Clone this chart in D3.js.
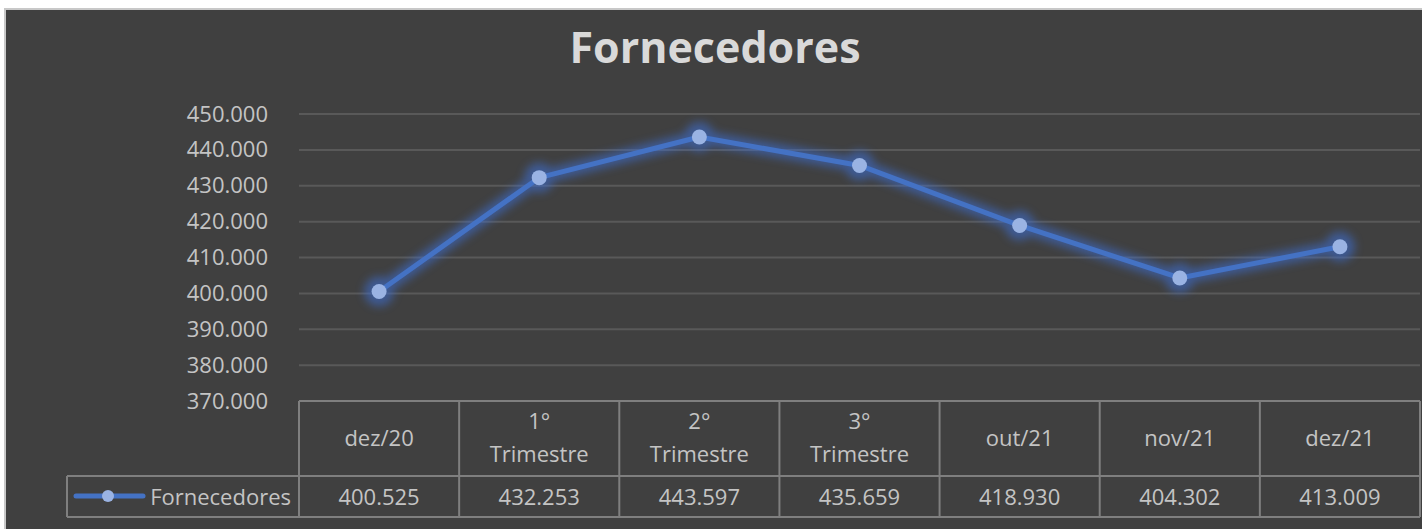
<!DOCTYPE html>
<html>
<head>
<meta charset="utf-8">
<script src="https://cdn.jsdelivr.net/npm/d3@7"></script>
<style>
  html, body { margin: 0; padding: 0; background: #ffffff; }
  svg { display: block; }
  text { font-family: "Open Sans", "Noto Sans", sans-serif; }
</style>
</head>
<body>
<div id="chart"></div>
<script>
// chart data
const categories = [["dez/20"], ["1°", "Trimestre"], ["2°", "Trimestre"], ["3°", "Trimestre"], ["out/21"], ["nov/21"], ["dez/21"]];
const seriesName = "Fornecedores";
const values = [400525, 432253, 443597, 435659, 418930, 404302, 413009];
const valueLabels = ["400.525", "432.253", "443.597", "435.659", "418.930", "404.302", "413.009"];
const yTicks = [370000, 380000, 390000, 400000, 410000, 420000, 430000, 440000, 450000];

const width = 1422, height = 529;

const svg = d3.select("#chart").append("svg")
  .attr("width", width)
  .attr("height", height);

// soft blue glow behind the line
const defs = svg.append("defs");
defs.append("filter").attr("id", "glow")
  .attr("x", "-20%").attr("y", "-50%").attr("width", "140%").attr("height", "200%")
  .append("feGaussianBlur").attr("stdDeviation", 4);

// chart background and frame
svg.append("rect")
  .attr("x", 5).attr("y", 9)
  .attr("width", width).attr("height", height)
  .attr("fill", "#404040")
  .attr("stroke", "#c8c8c8")
  .attr("stroke-width", 2);

// title
svg.append("text")
  .attr("x", 715).attr("y", 63)
  .attr("text-anchor", "middle")
  .attr("font-size", 43)
  .attr("font-weight", "bold")
  .attr("fill", "#d9d9d9")
  .text("Fornecedores");

// scales
const x = d3.scaleBand()
  .domain(d3.range(categories.length))
  .range([299, 1420]);

const y = d3.scaleLinear()
  .domain([370000, 450000])
  .range([401, 114]);

// gridlines
svg.append("g")
  .selectAll("line")
  .data(yTicks.slice(1))
  .join("line")
  .attr("x1", 299).attr("x2", 1420)
  .attr("y1", d => y(d)).attr("y2", d => y(d))
  .attr("stroke", "#595959")
  .attr("stroke-width", 2);

// y axis labels
const yAxis = svg.append("g")
  .attr("transform", "translate(283,0)")
  .call(d3.axisLeft(y).tickValues(yTicks).tickSize(0).tickPadding(15)
    .tickFormat(d => (d / 1000).toFixed(3)));
yAxis.select(".domain").remove();
yAxis.selectAll("text")
  .attr("font-family", "'Open Sans', sans-serif")
  .attr("font-size", 22)
  .attr("fill", "#c4c4c4");

// data table
const tableTop = 401, headBottom = 476, tableBottom = 517, legendLeft = 67;
const tb = svg.append("g")
  .attr("stroke", "#7f7f7f")
  .attr("stroke-width", 2)
  .attr("fill", "none");
tb.append("line").attr("x1", 299).attr("x2", 1420).attr("y1", tableTop).attr("y2", tableTop);
tb.append("line").attr("x1", legendLeft).attr("x2", 1420).attr("y1", headBottom).attr("y2", headBottom);
tb.append("line").attr("x1", legendLeft).attr("x2", 1420).attr("y1", tableBottom).attr("y2", tableBottom);
tb.append("line").attr("x1", legendLeft).attr("x2", legendLeft).attr("y1", headBottom).attr("y2", tableBottom);
tb.selectAll(".col")
  .data(d3.range(categories.length + 1))
  .join("line")
  .attr("x1", i => i < categories.length ? x(i) : x.range()[1])
  .attr("x2", i => i < categories.length ? x(i) : x.range()[1])
  .attr("y1", tableTop).attr("y2", tableBottom);

// header labels
const head = svg.append("g")
  .selectAll("text")
  .data(categories)
  .join("text")
  .attr("text-anchor", "middle")
  .attr("font-size", 22)
  .attr("fill", "#c4c4c4")
  .attr("x", (d, i) => x(i) + x.bandwidth() / 2)
  .attr("y", d => d.length === 1 ? 446 : 429);
head.selectAll("tspan")
  .data(d => d)
  .join("tspan")
  .attr("x", function () { return d3.select(this.parentNode).attr("x"); })
  .attr("dy", (d, i) => i === 0 ? 0 : 33)
  .text(d => d);

// value row
svg.append("g")
  .selectAll("text")
  .data(valueLabels)
  .join("text")
  .attr("text-anchor", "middle")
  .attr("font-size", 22)
  .attr("fill", "#c4c4c4")
  .attr("x", (d, i) => x(i) + x.bandwidth() / 2)
  .attr("y", 505)
  .text(d => d);

// legend key
svg.append("line")
  .attr("x1", 76).attr("x2", 143).attr("y1", 496).attr("y2", 496)
  .attr("stroke", "#4472c4").attr("stroke-width", 5).attr("stroke-linecap", "round");
svg.append("circle")
  .attr("cx", 108).attr("cy", 496).attr("r", 6)
  .attr("fill", "#9ab3e3");
svg.append("text")
  .attr("x", 291).attr("y", 505)
  .attr("text-anchor", "end")
  .attr("font-size", 22)
  .attr("fill", "#c4c4c4")
  .text(seriesName);

// line
const line = d3.line()
  .x((d, i) => x(i) + x.bandwidth() / 2)
  .y(d => y(d));

const px = (d, i) => x(i) + x.bandwidth() / 2;

// glow layer
const halo = svg.append("g")
  .attr("filter", "url(#glow)")
  .attr("opacity", 0.55);
halo.append("path")
  .datum(values)
  .attr("d", line)
  .attr("fill", "none")
  .attr("stroke", "#3d6fd6")
  .attr("stroke-width", 14)
  .attr("stroke-linejoin", "round");
halo.selectAll("circle")
  .data(values)
  .join("circle")
  .attr("cx", px)
  .attr("cy", d => y(d))
  .attr("r", 15)
  .attr("fill", "#3d6fd6");

const series = svg.append("g");
series.append("path")
  .datum(values)
  .attr("d", line)
  .attr("fill", "none")
  .attr("stroke", "#4472c4")
  .attr("stroke-width", 5)
  .attr("stroke-linejoin", "round");
series.selectAll("circle")
  .data(values)
  .join("circle")
  .attr("cx", px)
  .attr("cy", d => y(d))
  .attr("r", 7.5)
  .attr("fill", "#9ab3e3");
</script>
</body>
</html>
